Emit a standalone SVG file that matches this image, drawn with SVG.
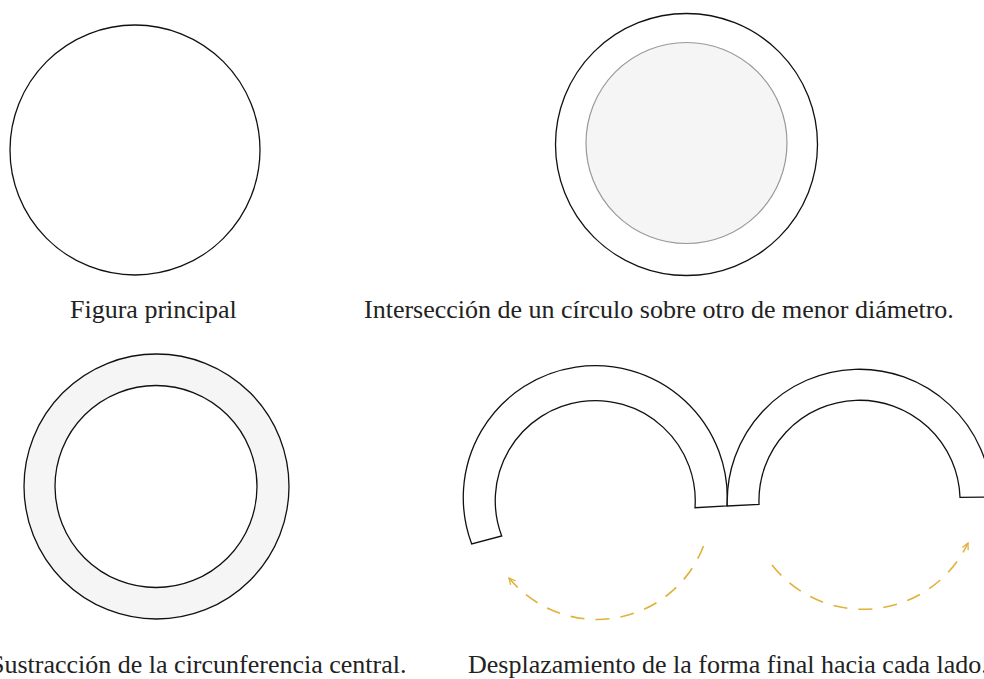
<svg xmlns="http://www.w3.org/2000/svg" width="984" height="679" viewBox="0 0 984 679">
  <style>
    .ln { stroke: #111; stroke-width: 1.3; }
    .lbl { font-family: "Liberation Serif", "Times New Roman", serif; font-size: 26px; fill: #222; }
    .dash { fill: none; stroke: #E0B23C; stroke-width: 1.6; stroke-dasharray: 14 11; }
  </style>
  <defs>
    <marker id="chev" viewBox="0 0 10 10" refX="9" refY="5" markerWidth="8" markerHeight="8" markerUnits="userSpaceOnUse" orient="auto">
      <path d="M1 1 L9 5 L1 9" fill="none" stroke="#E0B23C" stroke-width="1.6"/>
    </marker>
  </defs>
  <rect width="984" height="679" fill="#ffffff"/>

  <g id="figura-principal">
    <circle class="ln" cx="135" cy="150" r="125" fill="#ffffff"/>
    <text class="lbl" x="70" y="318">Figura principal</text>
  </g>

  <g id="interseccion">
    <circle class="ln" cx="686.5" cy="144.5" r="131" fill="#ffffff"/>
    <circle cx="686.5" cy="143" r="100.5" fill="#f5f5f5" stroke="#999999" stroke-width="1.2"/>
    <text class="lbl" x="364" y="318">Intersección de un círculo sobre otro de menor diámetro.</text>
  </g>

  <g id="sustraccion">
    <circle class="ln" cx="156.5" cy="486.5" r="132.5" fill="#f5f5f5"/>
    <circle class="ln" cx="156" cy="486.5" r="101" fill="#ffffff"/>
    <text class="lbl" x="-10" y="673">Sustracción de la circunferencia central.</text>
  </g>

  <g id="desplazamiento">
    <path class="ln" fill="#ffffff" d="M471.7 544 A132 132 0 1 1 727 506 L695 507.7 A100 100 0 1 0 501.7 536 Z"/>
    <path class="ln" fill="#ffffff" d="M727.3 506 A132 132 0 1 1 991.5 497 L960 497.3 A100.5 100.5 0 1 0 759 504.3 Z"/>
    <text class="lbl" x="468" y="673">Desplazamiento de la forma final hacia cada lado.</text>
  </g>

  <g id="connectors">
    <path class="dash" d="M703.5 546 A114 114 0 0 1 509 578" marker-end="url(#chev)"/>
    <path class="dash" d="M772 565 A116 116 0 0 0 968 543" marker-end="url(#chev)"/>
  </g>
</svg>
